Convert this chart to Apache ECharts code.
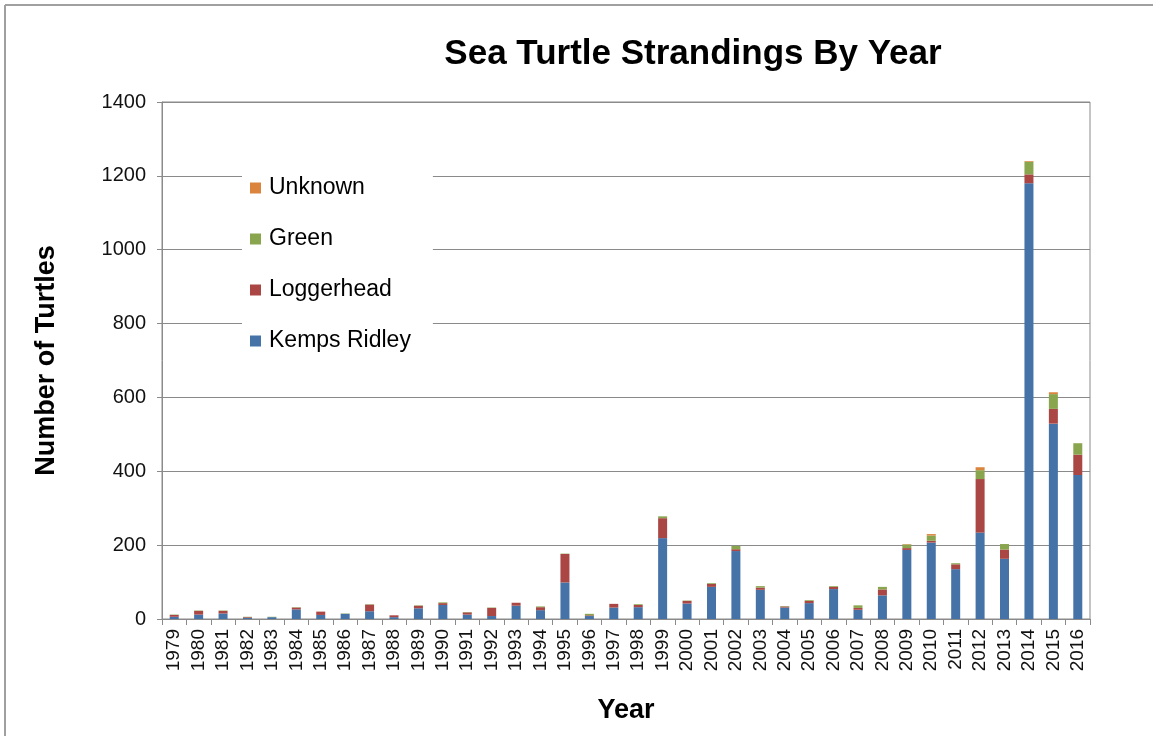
<!DOCTYPE html>
<html>
<head>
<meta charset="utf-8">
<script src="https://cdn.jsdelivr.net/npm/echarts@6/dist/echarts.min.js"></script>
<style>
  html, body { margin: 0; padding: 0; background: #fff; }
  #chart { width: 1153px; height: 736px; }
</style>
</head>
<body>
<div id="chart"></div>
<script>
const years = ['1979', '1980', '1981', '1982', '1983', '1984', '1985', '1986', '1987', '1988',
  '1989', '1990', '1991', '1992', '1993', '1994', '1995', '1996', '1997', '1998',
  '1999', '2000', '2001', '2002', '2003', '2004', '2005', '2006', '2007', '2008',
  '2009', '2010', '2011', '2012', '2013', '2014', '2015', '2016']

const kempsRidley = [6, 12, 15, 3, 5, 26, 11, 14, 21, 5,
  29, 38, 12, 8, 36, 24, 99, 8, 31, 32,
  219, 42, 87, 184, 79, 31, 43, 81, 25, 64,
  187, 207, 135, 234, 163, 1180, 529, 390]

const loggerhead = [5, 10, 7, 2, 0, 5, 9, 0, 18, 5,
  7, 5, 6, 22, 8, 8, 77, 2, 10, 6,
  54, 7, 8, 5, 6, 3, 6, 6, 5, 16,
  5, 5, 13, 145, 25, 24, 40, 55]

const green = [1, 1, 1, 1, 1, 1, 0, 1, 1, 0,
  1, 2, 1, 1, 0, 2, 1, 4, 0, 2,
  5, 1, 2, 9, 4, 1, 2, 2, 7, 7,
  10, 14, 3, 24, 15, 34, 40, 31]

const unknown = [0, 0, 0, 0, 0, 0, 0, 0, 0, 0,
  0, 0, 0, 0, 0, 0, 0, 0, 0, 0,
  0, 0, 0, 0, 0, 0, 0, 0, 0, 0,
  1, 4, 0, 8, 0, 2, 5, 0]

const yTicks = { min: 0, max: 1400, interval: 200 }

const font = '"Liberation Sans", Arial, sans-serif'
const gridColor = '#8a8a8a'

function barSeries(name, data, color) {
  return {
    name: name,
    type: 'bar',
    stack: 'total',
    barWidth: 9,
    data: data,
    itemStyle: { color: color },
  }
}

const chart = echarts.init(document.getElementById('chart'))

chart.setOption({
  animation: false,
  backgroundColor: '#fff',
  textStyle: { fontFamily: font },
  title: {
    text: 'Sea Turtle Strandings By Year',
    left: 688,
    top: 32,
    textAlign: 'center',
    textStyle: { fontSize: 35, fontWeight: 'bold', color: '#000', fontFamily: font },
  },
  graphic: [
    { type: 'line', shape: { x1: 5, y1: 5, x2: 1153, y2: 5 }, style: { stroke: '#a0a0a0', lineWidth: 2 } },
    { type: 'line', shape: { x1: 5, y1: 5, x2: 5, y2: 736 }, style: { stroke: '#a0a0a0', lineWidth: 2 } },
  ],
  grid: {
    left: 162,
    right: 63,
    top: 102,
    bottom: 117,
    show: true,
    borderColor: gridColor,
    borderWidth: 1,
  },
  legend: {
    data: ['Unknown', 'Green', 'Loggerhead', 'Kemps Ridley'],
    orient: 'vertical',
    left: 242,
    top: 165,
    backgroundColor: '#fff',
    padding: [11, 22, 7, 8],
    itemWidth: 11,
    itemHeight: 11,
    itemGap: 27,
    icon: 'rect',
    textStyle: { fontSize: 23, lineHeight: 24, color: '#000', fontFamily: font, padding: [0, 0, 0, 3] },
    z: 10,
  },
  xAxis: {
    type: 'category',
    data: years,
    name: 'Year',
    nameLocation: 'middle',
    nameGap: 78,
    nameTextStyle: { fontSize: 27, fontWeight: 'bold', color: '#000', fontFamily: font },
    axisLine: { lineStyle: { color: gridColor } },
    axisTick: { show: true, interval: 0, length: 6, lineStyle: { color: gridColor } },
    axisLabel: { interval: 0, rotate: 90, fontSize: 19, color: '#111', margin: 10 },
  },
  yAxis: {
    type: 'value',
    min: yTicks.min,
    max: yTicks.max,
    interval: yTicks.interval,
    name: 'Number of Turtles',
    nameLocation: 'middle',
    nameGap: 102,
    nameTextStyle: { fontSize: 27, fontWeight: 'bold', color: '#000', fontFamily: font },
    axisLine: { show: true, lineStyle: { color: gridColor } },
    axisTick: { show: true, length: 5, lineStyle: { color: gridColor } },
    axisLabel: { fontSize: 20, color: '#111', margin: 16, formatter: (v) => String(v) },
    splitLine: { lineStyle: { color: gridColor } },
  },
  series: [
    barSeries('Kemps Ridley', kempsRidley, '#4572A7'),
    barSeries('Loggerhead', loggerhead, '#AA4643'),
    barSeries('Green', green, '#89A54E'),
    barSeries('Unknown', unknown, '#DB843D'),
  ],
})
</script>
</body>
</html>
